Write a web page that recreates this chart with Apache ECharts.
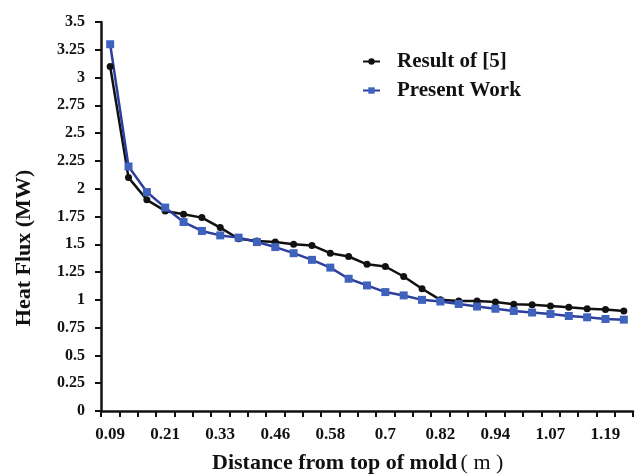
<!DOCTYPE html>
<html>
<head>
<meta charset="utf-8">
<script src="https://cdn.jsdelivr.net/npm/echarts@6/dist/echarts.min.js"></script>
<style>
  html, body { margin: 0; padding: 0; background: #fff; }
  #chart { width: 638px; height: 476px; }
</style>
</head>
<body>
<div id="chart"></div>
<script>
// Distance from top of mold (m), one category per measurement station
var distances = ['0.09', '0.13', '0.17', '0.21', '0.25', '0.29', '0.33', '0.37', '0.42',
  '0.46', '0.5', '0.54', '0.58', '0.62', '0.66', '0.7', '0.74', '0.78', '0.82', '0.86',
  '0.9', '0.94', '0.99', '1.03', '1.07', '1.11', '1.15', '1.19', '1.23'];

// Heat flux (MW) from reference [5]
var resultRef5 = [3.10, 2.10, 1.90, 1.80, 1.77, 1.74, 1.65, 1.55, 1.53,
  1.52, 1.50, 1.49, 1.42, 1.39, 1.32, 1.30, 1.21, 1.10, 1.00, 0.99,
  0.99, 0.98, 0.96, 0.955, 0.945, 0.933, 0.92, 0.913, 0.90];

// Heat flux (MW) from the present work
var presentWork = [3.30, 2.20, 1.97, 1.83, 1.70, 1.62, 1.58, 1.56, 1.52,
  1.475, 1.42, 1.36, 1.29, 1.19, 1.13, 1.07, 1.04, 1.00, 0.985, 0.963,
  0.94, 0.92, 0.90, 0.886, 0.873, 0.855, 0.843, 0.828, 0.822];

var xTitle = 'Distance from top of mold';
var xUnit = '( m )';
var yTitle = 'Heat Flux (MW)';

var serif = '"Liberation Serif", "Times New Roman", serif';
var ink = '#111';

var chart = echarts.init(document.getElementById('chart'));
chart.setOption({
  animation: false,
  backgroundColor: '#fff',
  textStyle: { fontFamily: serif },
  grid: { left: 101, right: 5, top: 22, bottom: 65, containLabel: false },
  legend: {
    left: 357, top: 46, orient: 'vertical', itemGap: 8,
    itemWidth: 17, itemHeight: 8,
    textStyle: {
      fontFamily: serif, fontWeight: 'bold', fontSize: 21, color: ink,
      padding: [0, 0, 0, 12]
    },
    data: ['Result of [5]', 'Present Work']
  },
  graphic: [
    {
      type: 'text', left: 212, top: 452,
      style: {
        text: '{b|' + xTitle + '} {r|' + xUnit + '}',
        rich: {
          b: { fontFamily: serif, fontWeight: 'bold', fontSize: 22, fill: ink },
          r: { fontFamily: serif, fontWeight: 'normal', fontSize: 22, fill: ink }
        }
      }
    },
    {
      type: 'text', x: 24, y: 248, rotation: Math.PI / 2,
      style: {
        text: yTitle, fontFamily: serif, fontWeight: 'bold', fontSize: 22,
        fill: ink, align: 'center', verticalAlign: 'middle'
      }
    }
  ],
  xAxis: {
    type: 'category',
    data: distances,
    boundaryGap: true,
    axisLine: { lineStyle: { color: ink, width: 2.5 } },
    axisTick: { show: true, interval: 0, length: 6, lineStyle: { color: ink, width: 2 } },
    axisLabel: {
      interval: 2, margin: 15, color: ink,
      fontFamily: serif, fontWeight: 'bold', fontSize: 17
    }
  },
  yAxis: {
    type: 'value', min: 0, max: 3.5, interval: 0.25,
    splitLine: { show: false },
    axisLine: { show: true, lineStyle: { color: ink, width: 2.5 } },
    axisTick: { show: true, length: 6, lineStyle: { color: ink, width: 2 } },
    axisLabel: {
      margin: 16, color: ink,
      fontFamily: serif, fontWeight: 'bold', fontSize: 16
    }
  },
  series: [
    {
      name: 'Result of [5]', type: 'line', data: resultRef5,
      symbol: 'circle', symbolSize: 7,
      lineStyle: { color: ink, width: 2.5 },
      itemStyle: { color: ink }
    },
    {
      name: 'Present Work', type: 'line', data: presentWork,
      symbol: 'rect', symbolSize: 8,
      lineStyle: { color: '#2c3f9e', width: 2.5 },
      itemStyle: { color: '#3f63bd' }
    }
  ]
});
</script>
</body>
</html>
